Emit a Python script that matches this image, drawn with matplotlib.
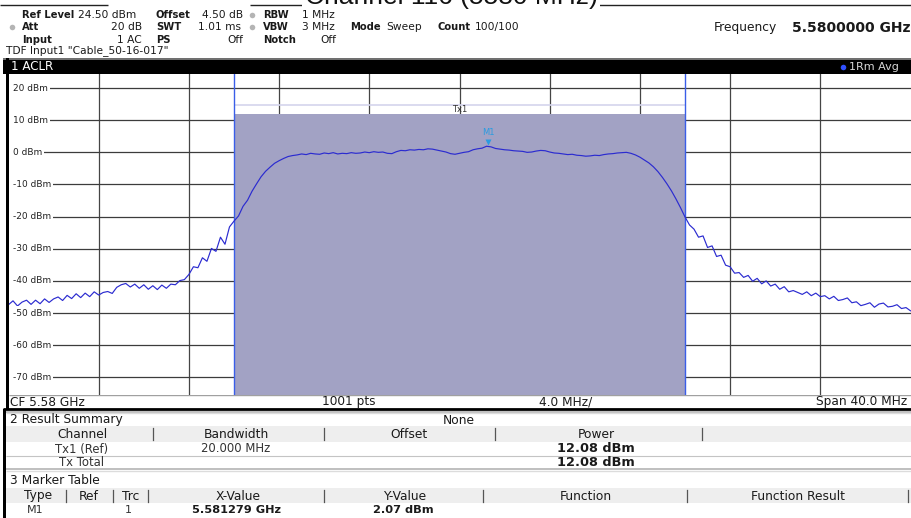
import numpy as np
import matplotlib
matplotlib.use("Agg")
import matplotlib.pyplot as plt
from matplotlib.patches import Rectangle
from matplotlib.transforms import offset_copy

# sweep / display settings
center_ghz = 5.58
span_ghz = 0.040
ref_level = 24.5
range_db = 100.0
level_ticks = [20, 10, 0, -10, -20, -30, -40, -50, -60, -70]
channel_lo = 5.57
channel_hi = 5.59
channel_power = 12.08
marker_x = 5.581279
marker_y = 2.07

# averaged trace, one value every 200 kHz across the span
trace_dbm = [
    -47.4, -46.2, -47.8, -46.6, -46.0, -47.3, -46.0, -47.1, -45.6, -46.7,
    -45.6, -45.0, -46.1, -44.5, -45.5, -44.0, -45.2, -43.8, -44.9, -43.4,
    -44.4, -43.6, -43.3, -43.9, -42.0, -41.2, -40.8, -41.9, -41.0, -42.3,
    -41.2, -42.6, -41.5, -42.7, -41.3, -42.3, -41.0, -41.2, -39.9, -39.6,
    -38.0, -35.6, -35.9, -32.8, -33.9, -29.9, -30.8, -26.4, -28.6, -23.2,
    -21.4, -19.8, -16.8, -14.9, -12.1, -9.8, -7.6, -5.9, -4.6, -3.4,
    -2.6, -1.9, -1.3, -1.0, -0.8, -0.5, -0.7, -0.3, -0.5, -0.6,
    -0.2, -0.4, -0.1, -0.5, -0.3, -0.4, -0.1, -0.3, -0.2, 0.1,
    -0.1, 0.2, 0.0, 0.1, -0.3, -0.4, 0.2, 0.6, 0.5, 0.8,
    0.7, 0.9, 0.8, 1.1, 1.0, 0.7, 0.4, 0.1, -0.4, -0.6,
    -0.3, 0.0, 0.2, 0.8, 1.1, 1.3, 1.9, 1.7, 1.2, 1.0,
    0.8, 0.7, 0.5, 0.4, 0.3, 0.0, 0.1, 0.4, 0.6, 0.5,
    0.1, -0.2, -0.3, -0.5, -0.7, -0.6, -0.9, -1.0, -1.2, -1.1,
    -0.9, -1.0, -0.7, -0.5, -0.4, -0.2, -0.1, 0.0, -0.3, -0.8,
    -1.5, -2.4, -3.3, -4.5, -6.0, -7.8, -9.8, -12.0, -14.5, -17.2,
    -20.1, -22.6, -23.9, -26.4, -26.0, -29.6, -29.1, -32.4, -32.0, -35.1,
    -35.6, -37.6, -37.4, -38.9, -38.3, -40.1, -39.2, -40.9, -40.0, -41.6,
    -41.0, -42.6, -41.8, -43.4, -43.0, -43.6, -44.2, -43.4, -44.6, -43.8,
    -44.9, -44.6, -45.6, -44.8, -46.1, -45.8, -45.3, -46.8, -46.5, -47.7,
    -47.3, -46.8, -48.2, -47.2, -46.9, -48.1, -47.9, -47.4, -48.6, -48.3,
    -49.3,
]
freq_ghz = np.linspace(center_ghz - span_ghz / 2, center_ghz + span_ghz / 2, len(trace_dbm))

summary_cols = ["Channel", "Bandwidth", "Offset", "Power"]
summary_rows = [["Tx1 (Ref)", "20.000 MHz", "", f"{channel_power:.2f} dBm"],
                ["Tx Total", "", "", f"{channel_power:.2f} dBm"]]
marker_cols = ["Type", "Ref", "Trc", "X-Value", "Y-Value", "Function", "Function Result"]
marker_row = ["M1", "", "1", f"{marker_x:.6f} GHz", f"{marker_y:.2f} dBm", "", ""]

W, H = 911, 518
fig = plt.figure(figsize=(W / 100, H / 100), dpi=100)
fig.patch.set_facecolor("white")

# background axes in pixel units for the instrument frame
bg = fig.add_axes([0, 0, 1, 1])
bg.set_xlim(0, W)
bg.set_ylim(H, 0)
bg.axis("off")
bg.set_zorder(0)

TXT = "#1a1a1a"


def t(x, y, s, size=7.7, bold=False, ha="left", color=TXT, **kw):
    bg.text(x, y, s, fontsize=size, fontweight="bold" if bold else "normal",
            ha=ha, va="center", color=color, **kw)


def hline(y, x0, x1, color, lw):
    bg.plot([x0, x1], [y, y], color=color, lw=lw, solid_capstyle="butt")


# title strip and header box
hline(5, 0, 108, "#222222", 1.0)
hline(5, 250, W, "#222222", 1.0)
bg.text(451, 4, "Channel 116 (5580 MHz)", fontsize=19, family="Liberation Sans",
        ha="center", va="baseline", color="#111111",
        bbox=dict(facecolor="white", edgecolor="none", pad=2))

HB = 7.2  # bold label size in the header
t(22, 15, "Ref Level", size=HB, bold=True)
t(78, 15, "24.50 dBm")
t(156, 15, "Offset", size=HB, bold=True)
t(202, 15, "4.50 dB")
t(263, 15, "RBW", size=HB, bold=True)
t(302, 15, "1 MHz")

t(22, 27, "Att", size=HB, bold=True)
t(142, 27, "20 dB", ha="right")
t(156, 27, "SWT", size=HB, bold=True)
t(241, 27, "1.01 ms", ha="right")
t(263, 27, "VBW", size=HB, bold=True)
t(302, 27, "3 MHz")
t(350, 27, "Mode", size=HB, bold=True)
t(386, 27, "Sweep")
t(438, 27, "Count", size=HB, bold=True)
t(475, 27, "100/100")

t(22, 40, "Input", size=HB, bold=True)
t(142, 40, "1 AC", ha="right")
t(156, 40, "PS", size=HB, bold=True)
t(243, 40, "Off", ha="right")
t(263, 40, "Notch", size=HB, bold=True)
t(336, 40, "Off", ha="right")

t(6, 51, 'TDF Input1 "Cable_50-16-017"')
bg.plot([252, 12, 252], [15, 27, 27], "o", ms=4, color="#b4b4b4", mec="none")

t(714, 28, "Frequency", size=8.8)
t(910, 28, "5.5800000 GHz", size=10, bold=True, ha="right")

# window title bar
bg.add_patch(Rectangle((3, 57.5), W - 3, 2.5, color="#707070", lw=0))
bg.add_patch(Rectangle((3, 60), W - 3, 13.5, color="black", lw=0))
t(11, 66.5, "1 ACLR", size=8.6, color="white")
bg.plot([843], [66.5], "o", ms=4, color="#3050ff", mec="none")
t(849, 66.5, "1Rm Avg", size=8, color="#d8d8d8")

# left frame edge
bg.add_patch(Rectangle((6, 57.5), 3, 352, color="black", lw=0))
bg.add_patch(Rectangle((3, 409), 3, H - 409, color="black", lw=0))

# footer under the diagram
hline(395, 8.5, W, "#a0a0a0", 1.0)
t(10, 402, "CF 5.58 GHz", size=8.7)
t(349, 402, "1001 pts", size=8.7, ha="center")
t(566, 402, "4.0 MHz/", size=8.7, ha="center")
t(907, 402, "Span 40.0 MHz", size=8.7, ha="right")
hline(409, 3, W, "black", 2.0)
hline(411.5, 6, W, "#b4b4b4", 1.2)
hline(413, 6, W, "#dcdcdc", 1.0)

# result summary table
t(10, 420, "2 Result Summary", size=8.8)
t(459, 420, "None", size=8.8, ha="center")
bg.add_patch(Rectangle((6, 426), W - 6, 16, color="#eeeeee", lw=0))
summary_x = [82, 236, 409, 596]
for x, s in zip(summary_x, summary_cols):
    t(x, 434, s, size=8.8, ha="center")
for x in [153, 324, 495, 702]:
    bg.plot([x, x], [428, 440], color="#555555", lw=0.9)
for row, y in zip(summary_rows, [449, 462]):
    for j, (x, s) in enumerate(zip(summary_x, row)):
        if j == 3:
            t(x, y, s, size=9.3, bold=True, ha="center")
        else:
            t(x, y, s, size=8.4, ha="center", color="#333333")
hline(455.5, 6, W, "#c4c4c4", 0.8)
hline(468.5, 6, W, "#b4b4b4", 1.2)
hline(471, 6, W, "#dcdcdc", 1.0)

# marker table
t(10, 481, "3 Marker Table", size=8.8)
bg.add_patch(Rectangle((6, 488), W - 6, 15, color="#eeeeee", lw=0))
marker_hx = [38, 88.5, 131, 238, 405, 586, 798]
for x, s in zip(marker_hx, marker_cols):
    t(x, 496, s, size=8.8, ha="center")
for x in [66, 113, 148, 324, 483, 687, 908]:
    bg.plot([x, x], [490, 502], color="#555555", lw=0.9)
marker_vx = [35, 88.5, 128, 236, 403, 586, 798]
for j, (x, s) in enumerate(zip(marker_vx, marker_row)):
    if j in (3, 4):
        t(x, 510, s, size=8.2, bold=True, ha="center")
    else:
        t(x, 510, s, size=8.0, ha="center", color="#333333")

# spectrum diagram
top, bottom, left, right = 73.6, 395.0, 8.5, 910.5
ax = fig.add_axes([left / W, 1 - bottom / H, (right - left) / W, (bottom - top) / H])
ax.set_zorder(2)
ax.set_facecolor("white")
ax.set_xlim(center_ghz - span_ghz / 2, center_ghz + span_ghz / 2)
ax.set_ylim(ref_level - range_db, ref_level)
ax.set_xticks([])
ax.set_yticks([])
for sp in ax.spines.values():
    sp.set_visible(False)

for k in range(1, 10):
    ax.axvline(center_ghz - span_ghz / 2 + k * span_ghz / 10, color="#454545", lw=0.9, zorder=1)
for lv in level_ticks:
    ax.axhline(lv, color="#3c3c3c", lw=0.9, zorder=1)
    ax.text(0.005, lv, f"{lv} dBm", transform=ax.get_yaxis_transform(),
            fontsize=6.5, color="#222222", va="center", ha="left", zorder=5,
            bbox=dict(facecolor="white", edgecolor="none", pad=1.5))
# keep the gridlines from touching the left edge
ax.add_patch(Rectangle((0, 0), 0.006, 1, transform=ax.transAxes, color="white", lw=0, zorder=1.5))

# channel bar
ax.fill_between([channel_lo, channel_hi], ref_level - range_db, channel_power,
                color="#a2a2c4", lw=0, zorder=2)
ax.hlines(14.7, channel_lo, channel_hi, color="#d4d4ec", lw=1.2, zorder=2)
ax.axvline(channel_lo, color="#3a5ee8", lw=1.0, zorder=3)
ax.axvline(channel_hi, color="#3a5ee8", lw=1.0, zorder=3)
ax.text((channel_lo + channel_hi) / 2, channel_power, "Tx1", fontsize=6, color="#333333",
        ha="center", va="bottom", zorder=5)

ax.plot(freq_ghz, trace_dbm, color="#2b2bd0", lw=0.85, zorder=4)

# marker M1
mk = "#2a9be0"
ax.plot(marker_x, marker_y, marker="v", ms=4.5, color=mk, mec="none", zorder=6,
        transform=offset_copy(ax.transData, fig=fig, x=0, y=2.3, units="points"))
ax.text(marker_x, marker_y, "M1", fontsize=6, color=mk, ha="center", va="bottom", zorder=6,
        transform=offset_copy(ax.transData, fig=fig, x=0, y=6, units="points"))

fig.savefig("out.png", dpi=100, facecolor="white")
